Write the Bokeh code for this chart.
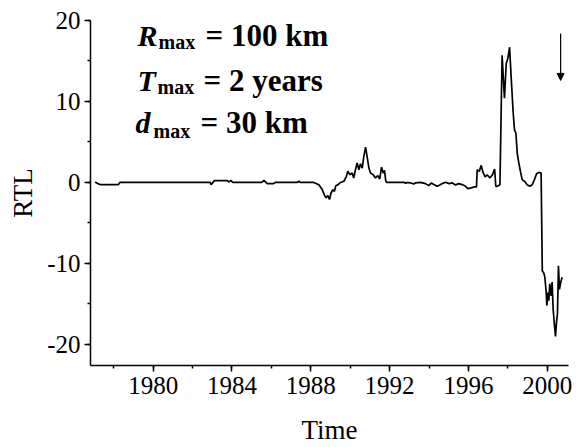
from bokeh.plotting import figure
from bokeh.models import SingleIntervalTicker, Label, Arrow, NormalHead, Range1d, CustomJSTickFormatter
from bokeh.embed import file_html
from bokeh.resources import INLINE

# ---- data ----
years = [1977.05, 1977.19, 1977.31, 1978.24, 1978.32, 1982.89, 1982.94, 1983.11,
         1983.74, 1983.86, 1983.94, 1984.04, 1984.16, 1985.51, 1985.62, 1985.79,
         1986.1, 1986.22, 1987.31, 1987.39, 1987.48, 1988.15, 1988.41, 1988.58,
         1988.70, 1988.78, 1988.86, 1988.95, 1989.03, 1989.12, 1989.20, 1989.27,
         1989.37, 1989.51, 1989.68, 1989.81, 1989.88, 1989.98, 1990.10, 1990.18,
         1990.27, 1990.35, 1990.44, 1990.52, 1990.61, 1990.69, 1990.78, 1990.86,
         1990.95, 1991.03, 1991.17, 1991.28, 1991.40, 1991.50, 1991.59, 1991.67,
         1991.74, 1991.81, 1991.88, 1992.75, 1992.81, 1992.87, 1993.06, 1993.23,
         1993.31, 1993.57, 1993.82, 1993.99, 1994.11, 1994.25, 1994.41, 1994.55,
         1994.67, 1994.84, 1995.01, 1995.18, 1995.35, 1995.51, 1995.68, 1995.85,
         1995.97, 1996.14, 1996.31, 1996.41, 1996.445, 1996.55, 1996.65, 1996.75,
         1996.85, 1996.95, 1997.09, 1997.22, 1997.33, 1997.39, 1997.46, 1997.60,
         1997.71, 1997.83, 1997.92, 1998.00, 1998.09, 1998.17, 1998.27, 1998.34,
         1998.41, 1998.48, 1998.56, 1998.64, 1998.73, 1998.85, 1998.98, 1999.12,
         1999.24, 1999.35, 1999.46, 1999.57, 1999.69, 1999.75, 1999.83, 1999.88,
         1999.95, 1999.98, 2000.03, 2000.08, 2000.13, 2000.20, 2000.25, 2000.30,
         2000.37, 2000.42, 2000.47, 2000.52, 2000.57, 2000.62, 2000.69, 2000.76]
rtl = [0.06, -0.14, -0.26, -0.26, 0.02, 0.02, -0.26, 0.23,
       0.23, 0.06, 0.27, 0.02, 0.02, 0.02, 0.25, -0.15,
       -0.15, 0.02, 0.0, 0.15, 0.0, 0.0, -0.27, -0.88,
       -1.6, -1.9, -1.6, -2.1, -1.3, -0.9, -1.1, -0.4,
       -0.3, 0.0, 0.15, 0.76, 1.4, 0.96, 1.17, 0.55,
       1.58, 2.4, 1.58, 2.3, 1.78, 3.2, 4.36, 3.2,
       1.78, 1.17, 0.96, 0.55, 0.84, 0.43, 1.9, 1.17,
       1.5, 0.14, 0.0, 0.0, -0.12, 0.0, -0.06, -0.18,
       -0.06, 0.02, -0.14, -0.39, -0.06, -0.26, -0.47, -0.3,
       -0.14, 0.02, -0.14, -0.06, -0.3, -0.14, -0.26, -0.47,
       -0.75, -0.67, -0.55, -0.55, 1.58, 1.37, 2.11, 1.17,
       0.68, 0.96, 0.56, 0.96, 1.66, -0.47, -0.47, -0.27,
       15.7, 10.4, 14.7, 15.3, 16.7, 13.0, 8.7, 6.5,
       6.08, 3.6, 2.4, 1.37, 0.35, 0.14, -0.27, -0.47,
       -0.27, 0.35, 1.08, 1.25, 1.17, -10.9, -11.2, -11.7,
       -13.6, -15.2, -13.6, -14.6, -12.5, -14.0, -12.3, -15.6,
       -17.7, -19.0, -17.3, -16.2, -10.3, -13.2, -12.3, -11.7]

x_start, x_end = 1976.82, 2001.08
y_start, y_end = -22.6, 20.0

FONT = "Liberation Serif"

p = figure(width=576, height=447,
           x_range=Range1d(x_start, x_end), y_range=Range1d(y_start, y_end),
           output_backend="svg", toolbar_location=None,
           min_border_left=90, min_border_right=8, min_border_top=20,
           min_border_bottom=80)
p.outline_line_color = None
p.xgrid.visible = False
p.ygrid.visible = False
p.background_fill_color = "white"
p.border_fill_color = "white"

p.line(years, rtl, line_color="black", line_width=1.7)

p.xaxis.ticker = SingleIntervalTicker(interval=4, num_minor_ticks=2)
p.yaxis.ticker = SingleIntervalTicker(interval=10, num_minor_ticks=2)
p.yaxis.formatter = CustomJSTickFormatter(code="return tick.toFixed(0);")
p.xaxis.axis_label = "Time"
p.yaxis.axis_label = "RTL"
for ax in (p.xaxis[0], p.yaxis[0]):
    ax.axis_line_width = 1.5
    ax.axis_line_color = "black"
    ax.major_tick_line_width = 1.5
    ax.minor_tick_line_width = 1.5
    ax.major_tick_line_color = "black"
    ax.minor_tick_line_color = "black"
    ax.major_tick_out = 6
    ax.major_tick_in = 0
    ax.minor_tick_out = 3
    ax.minor_tick_in = 0
    ax.major_label_text_font = FONT
    ax.major_label_text_font_size = "25px"
    ax.major_label_text_color = "black"
    ax.axis_label_text_font = FONT
    ax.axis_label_text_font_size = "27px"
    ax.axis_label_text_font_style = "normal"
    ax.axis_label_text_color = "black"
p.xaxis.major_label_standoff = 5
p.xaxis.axis_label_standoff = 18
p.yaxis.major_label_standoff = 4
p.yaxis.axis_label_standoff = 6

# ---- annotations: image-pixel layout converted to data coordinates ----
FL, FT = 90.0, 20.0
SX = 478.0 / (x_end - x_start)
SY = 346.7 / (y_end - y_start)

def dx(px):
    return x_start + (px - FL) / SX

def dy(py):
    return y_end - (py - FT) / SY

rows = [
    ("R", "= 100 km", 137, 158, 205, 35, 42),
    ("T", "= 2 years", 137, 157, 203, 80, 87),
    ("d", "= 30 km", 135, 153, 200, 123, 131),
]
for sym, rest, x1, x2, x3, base, subbase in rows:
    p.add_layout(Label(x=dx(x1), y=dy(base), text=sym, text_font=FONT,
                       text_font_size="30px", text_font_style="bold italic",
                       text_baseline="alphabetic", text_color="black"))
    p.add_layout(Label(x=dx(x2), y=dy(subbase), text="max", text_font=FONT,
                       text_font_size="20px", text_font_style="bold",
                       text_baseline="alphabetic", text_color="black"))
    p.add_layout(Label(x=dx(x3), y=dy(base), text=rest, text_font=FONT,
                       text_font_size="31px", text_font_style="bold",
                       text_baseline="alphabetic", text_color="black"))

p.add_layout(Arrow(x_start=2000.68, y_start=18.4, x_end=2000.68, y_end=12.6,
                   line_width=1.2, line_color="black",
                   end=NormalHead(size=7, fill_color="black", line_color="black",
                                  line_width=1)))

open("out.html", "w").write(file_html(p, INLINE))
